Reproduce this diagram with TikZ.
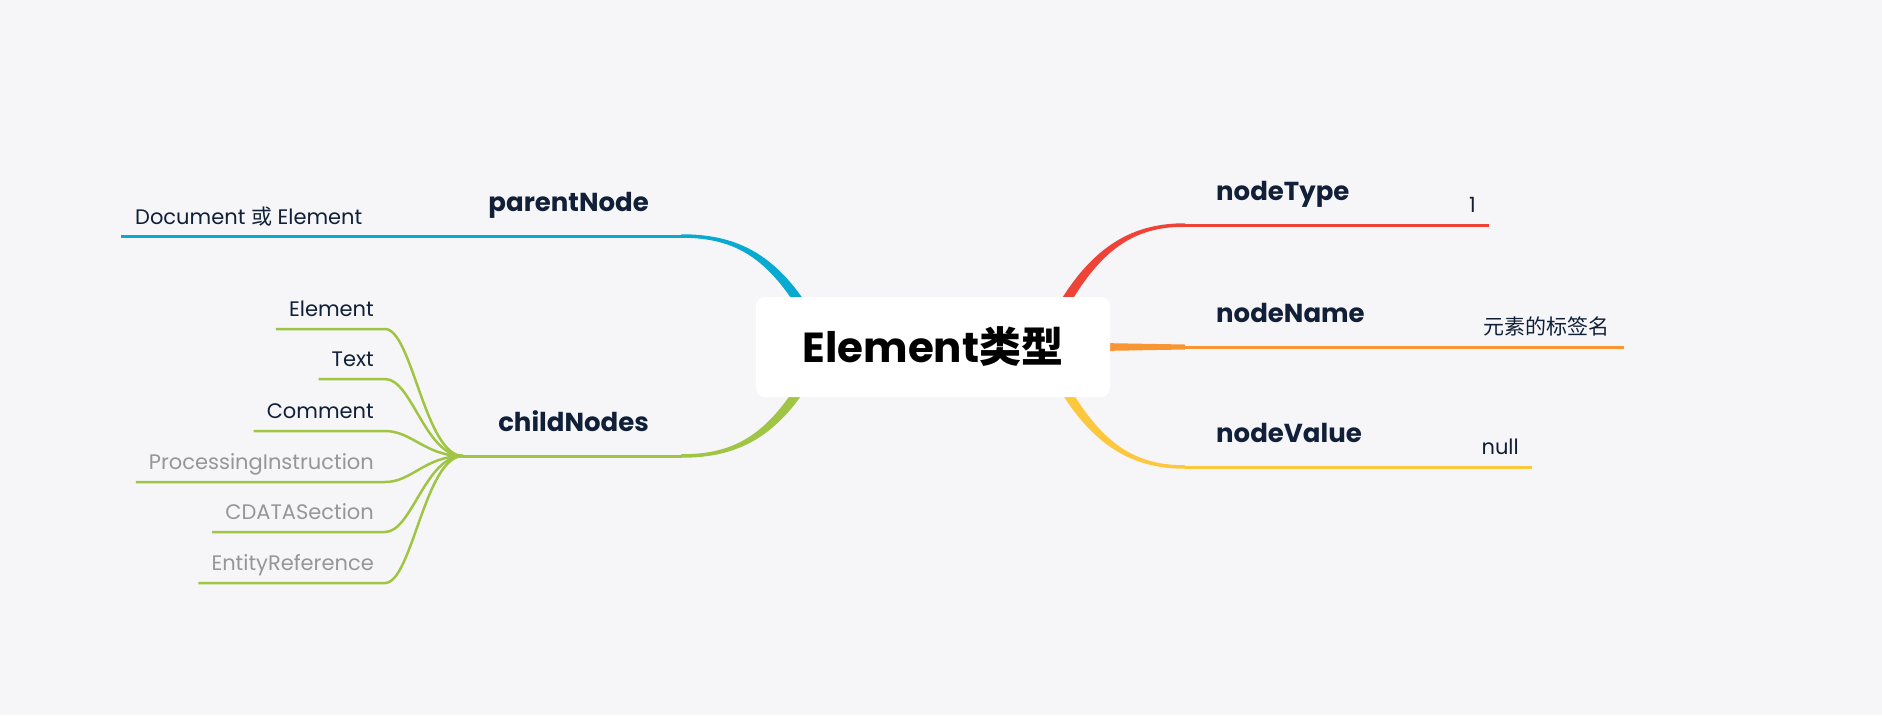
\documentclass[tikz,border=0pt]{standalone}
\usepackage{fontspec}
\setmainfont{Poppins}
\newfontfamily\cjk{Noto Sans CJK SC}
\usetikzlibrary{calc}
\definecolor{bgc}{RGB}{246,246,248}
\definecolor{navy}{RGB}{17,32,56}
\definecolor{fadegray}{RGB}{150,150,150}
\definecolor{tRed}{RGB}{240,67,55}
\definecolor{tOrange}{RGB}{247,150,50}
\definecolor{tYellow}{RGB}{253,200,62}
\definecolor{tBlue}{RGB}{8,170,210}
\definecolor{tGreen}{RGB}{160,196,68}
\tikzset{
    root/.style={
        fill=white,
        rounded corners=9pt,
        minimum width=354pt,
        minimum height=100pt,
        font=\fontsize{42}{48}\selectfont\bfseries
    },
    topic/.style={
        inner sep=0pt,
        text=navy,
        font=\fontsize{26}{30}\selectfont\bfseries
    },
    leaf/.style={
        inner sep=0pt,
        text=navy,
        font=\fontsize{21}{25}\selectfont
    },
    faded/.style={
        leaf,
        text=fadegray
    },
    stem/.style={
        line width=3pt
    },
    twig/.style={
        line width=2.5pt,
        tGreen
    }
}

\begin{document}
\begin{tikzpicture}[x=1pt,y=-1pt]
    \fill[bgc] (0,0) rectangle (1882,715);
    \useasboundingbox (0,0) rectangle (1882,715);
    % tapered branches out of the root
    \fill[tRed] (1045.5,327.8) .. controls (1085.5,247.8) and (1130,223.25) .. (1185,223.25) -- (1185,226.75) .. controls (1130,226.75) and (1094.5,252.2) .. (1054.5,332.2) -- cycle;
    \fill[tYellow] (1045.5,364.2) .. controls (1085.5,444.2) and (1130,468.75) .. (1185,468.75) -- (1185,465.25) .. controls (1130,465.25) and (1094.5,439.8) .. (1054.5,359.8) -- cycle;
    \fill[tOrange] (1100,343) -- (1185,344.5) -- (1185,349.5) -- (1100,351) -- cycle;
    \fill[tBlue] (820.4,327.6) .. controls (780.4,252.6) and (736,234.25) .. (681,234.25) -- (681,237.75) .. controls (736,237.75) and (771.6,257.4) .. (811.6,332.4) -- cycle;
    \fill[tGreen] (820.4,364.4) .. controls (780.4,439.4) and (736,457.75) .. (681,457.75) -- (681,454.25) .. controls (736,454.25) and (771.6,434.6) .. (811.6,359.6) -- cycle;

    \node[root] (root) at (933,347) {Element{\cjk 类型}};

    % right side
    \node[topic, anchor=base west] (type) at (1216,200) {nodeType};
    \node[topic, anchor=base west] (name) at (1216,322) {nodeName};
    \node[topic, anchor=base west] (value) at (1216,442) {nodeValue};
    \node[leaf, anchor=base east] (one) at (1476,212) {1};
    \node[leaf, anchor=base east] (tag) at (1610,334) {\cjk 元素的标签名};
    \node[leaf, anchor=base east] (null) at (1519,454) {null};
    \coordinate (typeJ) at (1185,225);
    \coordinate (typeE) at (1489,225);
    \coordinate (nameJ) at (1185,347);
    \coordinate (nameE) at (1624,347);
    \coordinate (valueJ) at (1185,467);
    \coordinate (valueE) at (1532,467);
    \draw[stem, tRed] (typeJ) -- (typeE);
    \draw[stem, tOrange] (nameJ) -- (nameE);
    \draw[stem, tYellow] (valueJ) -- (valueE);

    % left side
    \node[topic, anchor=base east] (parent) at (649,211) {parentNode};
    \node[topic, anchor=base east] (child) at (649,431) {childNodes};
    \node[leaf, anchor=base west] (doc) at (135,224) {Document {\cjk 或} Element};
    \coordinate (parentJ) at (681,236);
    \coordinate (parentE) at (121,236);
    \coordinate (childJ) at (681,456);
    \coordinate (fan) at (463,456);
    \draw[stem, tBlue] (parentJ) -- (parentE);
    \draw[stem, tGreen] (childJ) -- (fan);

    % children of childNodes
    \foreach \nm/\y/\st/\txt in {
        elem/329/leaf/Element,
        text/379/leaf/Text,
        comm/431/leaf/Comment,
        proc/482/faded/ProcessingInstruction,
        cdata/532/faded/CDATASection,
        ent/583/faded/EntityReference}
    {
        \node[\st, anchor=base east] (\nm) at (374,\y-13) {\txt};
        \path (\nm.base west) ++(-13,13) coordinate (\nm-l);
        \coordinate (\nm-r) at (385,\y);
        \draw[twig] (fan) .. controls +(-38,0) and +(27,0) .. (\nm-r) -- (\nm-l);
    }
\end{tikzpicture}
\end{document}
